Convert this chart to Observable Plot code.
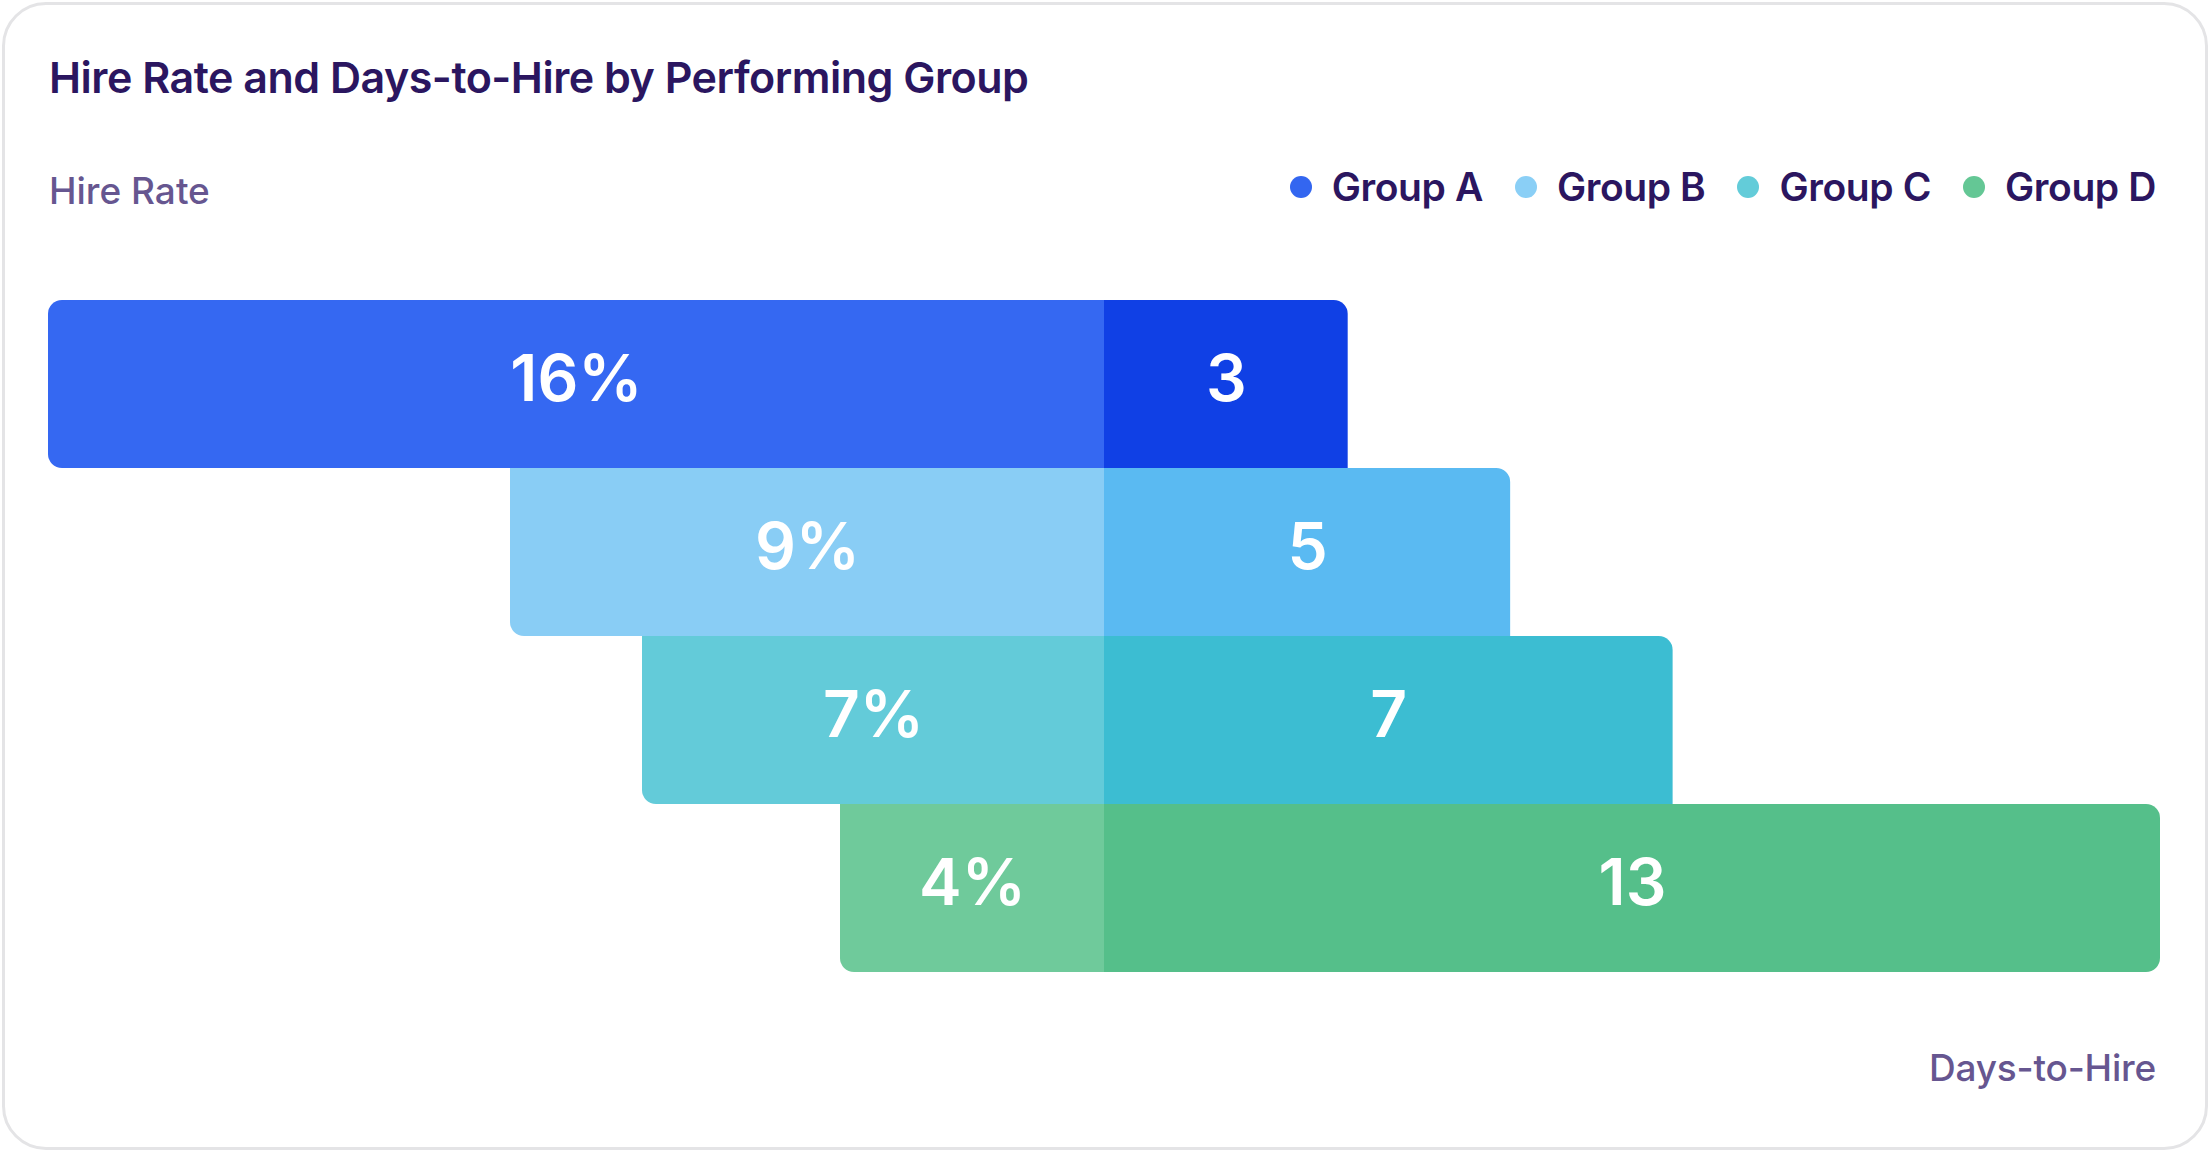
<!DOCTYPE html>
<html>
<head>
<meta charset="utf-8">
<script src="https://cdn.jsdelivr.net/npm/d3@7"></script>
<script src="https://cdn.jsdelivr.net/npm/@observablehq/plot@0.6"></script>
<style>
  html, body { margin: 0; padding: 0; background: #ffffff; }
  body { font-family: Inter, "Noto Sans", sans-serif; }
  #page { position: relative; width: 2208px; height: 1163px; overflow: hidden; }
  #card { position: absolute; left: 2px; top: 2px; width: 2200px; height: 1142px;
          border: 3px solid #e4e4e6; border-radius: 44px; box-sizing: content-box; }
  .abs { position: absolute; line-height: 1; white-space: nowrap; }
  #title { left: 49px; top: 56px; font-size: 43px; font-weight: 600; color: #2b1660; letter-spacing: -0.5px; }
  #leftLabel { left: 49px; top: 172px; font-size: 37px; font-weight: 500; color: #665690; letter-spacing: 0px; }
  #rightLabel { right: 52px; top: 1049px; font-size: 37px; font-weight: 500; color: #665690; letter-spacing: -0.2px; }
  #legend { right: 52px; top: 167px; display: flex; align-items: center; font-size: 39px; font-weight: 600; color: #2b1660; letter-spacing: -0.4px; }
  .item { display: flex; align-items: center; margin-left: 32px; height: 39px; }
  .dot { width: 22px; height: 22px; border-radius: 50%; margin-right: 20px; }
  #leftChart { position: absolute; left: 0; top: 280px; }
  #rightChart { position: absolute; left: 1104px; top: 280px; }
</style>
</head>
<body>
<div id="page">
  <div id="card"></div>
  <div id="title" class="abs">Hire Rate and Days-to-Hire by Performing Group</div>
  <div id="leftLabel" class="abs">Hire Rate</div>
  <div id="legend" class="abs"></div>
  <div id="leftChart"></div>
  <div id="rightChart"></div>
  <div id="rightLabel" class="abs">Days-to-Hire</div>
</div>
<script>
// ---- data ----
const groups = ["Group A", "Group B", "Group C", "Group D"];
const hireRate = [16, 9, 7, 4];          // %
const daysToHire = [3, 5, 7, 13];         // days
// ---- palette ----
const rateColors = ["#3568f2", "#89cdf5", "#63cbd9", "#6fca9b"];
const daysColors = ["#1040e5", "#5abaf2", "#3cbdd2", "#55bf8a"];
const legendColors = ["#3366f0", "#8acff6", "#63ccd9", "#64c795"];

const rows = groups.map((g, i) => ({group: g, rate: hireRate[i], days: daysToHire[i]}));
const first = d => d.group === groups[0];
const last = d => d.group === groups[groups.length - 1];

// legend
const legend = document.getElementById("legend");
groups.forEach((g, i) => {
  const item = document.createElement("div");
  item.className = "item";
  const dot = document.createElement("div");
  dot.className = "dot";
  dot.style.background = legendColors[i];
  const lab = document.createElement("span");
  lab.textContent = g;
  item.appendChild(dot); item.appendChild(lab);
  legend.appendChild(item);
});

const common = {
  width: 1104,
  height: 712,
  marginTop: 20,
  marginBottom: 20,
  y: {domain: groups, padding: 0, axis: null},
  style: {fontFamily: "Inter, 'Noto Sans', sans-serif", background: "transparent", overflow: "visible"}
};

const left = Plot.plot({
  ...common,
  marginLeft: 48,
  marginRight: 0,
  x: {domain: [0, 16], reverse: true, axis: null},
  color: {domain: groups, range: rateColors},
  marks: [
    Plot.barX(rows, {filter: first, y: "group", x: "rate", fill: "group", rx1: 14}),
    Plot.barX(rows, {filter: d => !first(d), y: "group", x: "rate", fill: "group", rx1y2: 14}),
    Plot.text(rows, {y: "group", x: d => d.rate / 2, text: d => `${d.rate}%`,
      fill: "white", fontSize: 64, fontWeight: 600, textAnchor: "middle", dy: -4})
  ]
});
document.getElementById("leftChart").appendChild(left);

const right = Plot.plot({
  ...common,
  marginLeft: 0,
  marginRight: 48,
  x: {domain: [0, 13], axis: null},
  color: {domain: groups, range: daysColors},
  marks: [
    Plot.barX(rows, {filter: last, y: "group", x: "days", fill: "group", rx2: 14}),
    Plot.barX(rows, {filter: d => !last(d), y: "group", x: "days", fill: "group", rx2y1: 14}),
    Plot.text(rows, {y: "group", x: d => d.days / 2, text: d => `${d.days}`,
      fill: "white", fontSize: 64, fontWeight: 600, textAnchor: "middle", dy: -4})
  ]
});
document.getElementById("rightChart").appendChild(right);
</script>
</body>
</html>
